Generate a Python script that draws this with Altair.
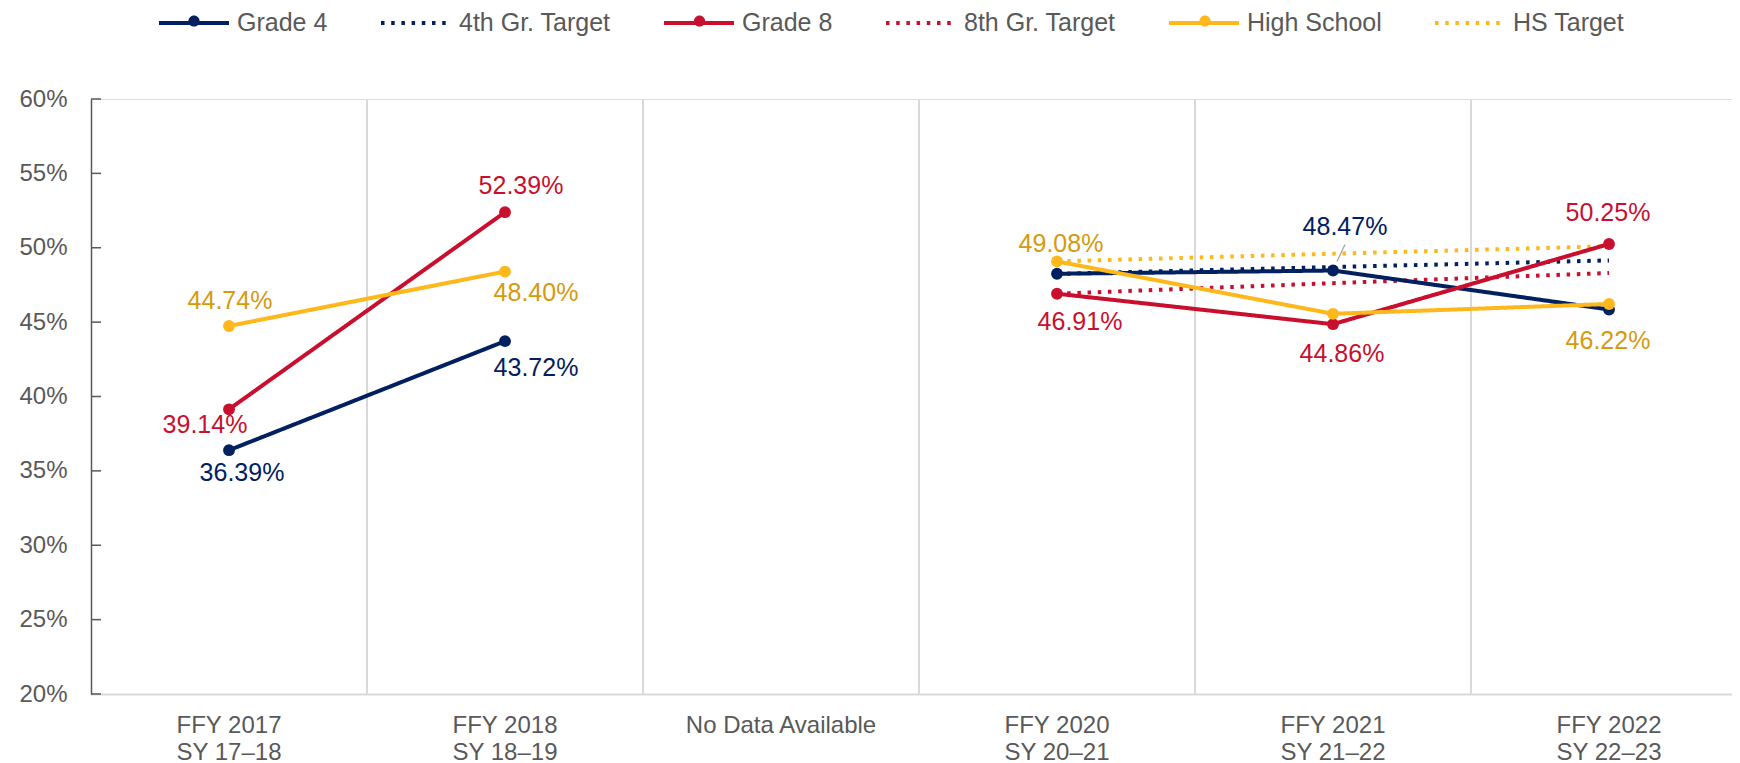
import altair as alt
import pandas as pd

# ---------------- data ----------------
periods = [
    "FFY 2017\nSY 17–18",
    "FFY 2018\nSY 18–19",
    "No Data Available",
    "FFY 2020\nSY 20–21",
    "FFY 2021\nSY 21–22",
    "FFY 2022\nSY 22–23",
]
series_names = ["Grade 4", "4th Gr. Target", "Grade 8", "8th Gr. Target", "High School", "HS Target"]
grades = ["Grade 4", "Grade 8", "High School"]

grade4 = [36.39, 43.72, None, 48.25, 48.47, 45.85]
grade8 = [39.14, 52.39, None, 46.91, 44.86, 50.25]
high_school = [44.74, 48.40, None, 49.08, 45.56, 46.22]
target4 = [None, None, None, 48.25, 48.70, 49.15]
target8 = [None, None, None, 46.91, 47.62, 48.30]
target_hs = [None, None, None, 49.08, 49.60, 50.10]

# which points carry a data label
labeled = {
    "Grade 4": [0, 1, 4],
    "Grade 8": [0, 1, 3, 4, 5],
    "High School": [0, 1, 3, 5],
}
# label with a leader line
leader = ("Grade 4", 4)

y_ticks = [20, 25, 30, 35, 40, 45, 50, 55, 60]

# ---------------- style ----------------
NAVY = "#002060"
RED = "#C8102E"
GOLD = "#FFB81C"
GOLD_TXT = "#D69A0C"
GRAY = "#595959"
LIGHT = "#D9D9D9"
FONT = "Liberation Sans"

line_colors = [NAVY, NAVY, RED, RED, GOLD, GOLD]
dot_colors = [NAVY, RED, GOLD]
DOT = [3.5, 6.7]
dashes = [[1, 0], DOT, [1, 0], DOT, [1, 0], DOT]
label_colors = {"Grade 4": NAVY, "Grade 8": RED, "High School": GOLD_TXT}
# label placement (pixel offsets from the point), keyed by series and period index
label_offsets = {
    ("Grade 4", 0): (13, 23), ("Grade 4", 1): (31, 27), ("Grade 4", 4): (12, -44),
    ("Grade 8", 0): (-24, 16), ("Grade 8", 1): (16, -26), ("Grade 8", 3): (23, 28),
    ("Grade 8", 4): (9, 30), ("Grade 8", 5): (-1, -31),
    ("High School", 0): (1, -25), ("High School", 1): (31, 21),
    ("High School", 3): (4, -17), ("High School", 5): (-1, 37),
}

# ---------------- tables ----------------
values = {
    "Grade 4": grade4, "4th Gr. Target": target4,
    "Grade 8": grade8, "8th Gr. Target": target8,
    "High School": high_school, "HS Target": target_hs,
}
rows = []
for s, vals in values.items():
    for i, v in enumerate(vals):
        if v is None:
            continue
        rows.append({
            "series": s, "dotkey": "dot " + s, "period": periods[i], "value": v,
            "seg": s + ("-a" if i < 2 else "-b"),
        })
df = pd.DataFrame(rows)

lab_rows = []
for s, idxs in labeled.items():
    for i in idxs:
        v = values[s][i]
        dx, dy = label_offsets[(s, i)]
        lab_rows.append({"series": s, "period": periods[i], "value": v,
                         "text": f"{v:.2f}%", "col": label_colors[s], "dx": dx, "dy": dy})
lab_df = pd.DataFrame(lab_rows)

lead_df = pd.DataFrame({"period": [periods[leader[1]]], "value": [values[leader[0]][leader[1]]]})
grid_df = pd.DataFrame({"period": periods[1:]})
tick_df = pd.DataFrame({"v": y_ticks})

# ---------------- scales / encodings ----------------
xscale = alt.Scale(type="band", domain=periods, paddingInner=0, paddingOuter=0)
yscale = alt.Scale(domain=[20, 60], nice=False, zero=False)

x_axis = alt.Axis(
    title=None, labelExpr="split(datum.label, '\\n')", labelAngle=0,
    labelFontSize=24, labelColor=GRAY, labelFont=FONT, labelLineHeight=27,
    labelPadding=19, labelBaseline="top", labelLimit=400, ticks=False, grid=False,
    domainColor=LIGHT, domainWidth=2,
)
y_axis = alt.Axis(
    title=None, values=y_ticks, labelExpr="datum.value + '%'",
    labelFontSize=24, labelColor=GRAY, labelFont=FONT, labelPadding=24,
    ticks=False, tickSize=0, grid=False, domainColor=GRAY, domainWidth=1.5,
)

legend_lines = alt.Legend(
    title=None, orient="none", direction="horizontal", columns=6,
    legendX=66, legendY=-113, padding=0, symbolSize=4900,
    symbolStrokeWidth=4, symbolType="stroke",
    labelFontSize=25, labelFont=FONT, labelOffset=6, labelColor=GRAY,
    columnPadding=45, labelLimit=400,
)
# marker dots laid over the solid legend strokes
legend_dots = alt.Legend(
    title=None, orient="none", direction="horizontal", columns=3,
    legendX=68, legendY=-113, padding=0, symbolSize=4900,
    symbolType="M-0.16,0A0.16,0.16,0,1,1,0.16,0A0.16,0.16,0,1,1,-0.16,0Z",
    symbolStrokeWidth=0, labelExpr="''", labelOffset=0, labelFontSize=25,
    columnPadding=435.5, zindex=2,
)

color_enc = alt.Color("series:N", scale=alt.Scale(domain=series_names, range=line_colors), legend=legend_lines)
dash_enc = alt.StrokeDash("series:N", scale=alt.Scale(domain=series_names, range=dashes), legend=legend_lines)
fill_enc = alt.Fill("dotkey:N", scale=alt.Scale(domain=["dot " + g for g in grades], range=dot_colors),
                    legend=legend_dots)

X = alt.X("period:N", scale=xscale, sort=periods, axis=x_axis)
Y = alt.Y("value:Q", scale=yscale, axis=y_axis)

grid = alt.Chart(grid_df).mark_rule(color=LIGHT, strokeWidth=2).encode(
    x=alt.X("period:N", scale=xscale, sort=periods, bandPosition=0, axis=x_axis)
)

yt = alt.Chart(tick_df).mark_rule(color=GRAY, strokeWidth=1.5).encode(
    y=alt.Y("v:Q", scale=yscale, axis=y_axis), x=alt.value(0), x2=alt.value(10)
)

targets = alt.Chart(df[~df.series.isin(grades)]).mark_line(strokeWidth=4, strokeCap="butt").encode(
    x=X, y=Y, color=color_enc, strokeDash=dash_enc, detail="seg:N"
)
lines = alt.Chart(df[df.series.isin(grades)]).mark_line(strokeWidth=4, strokeCap="round").encode(
    x=X, y=Y, color=color_enc, strokeDash=dash_enc, detail="seg:N"
)
points = alt.Chart(df[df.series.isin(grades)]).mark_point(filled=True, size=140, opacity=1).encode(
    x=X, y=Y, fill=fill_enc
)
lead = alt.Chart(lead_df).mark_point(
    shape="M0.4,-0.9L1.2,-2.6", size=400, filled=False, stroke="#A6A6A6", strokeWidth=1.3, opacity=1
).encode(x=X, y=Y)
labels = alt.Chart(lab_df).mark_text(
    fontSize=25, font=FONT, align="center", baseline="middle",
    dx=alt.ExprRef(expr="datum.dx"), dy=alt.ExprRef(expr="datum.dy"),
).encode(x=X, y=Y, text="text:N", fill=alt.Fill("col:N", scale=None, legend=None))

chart = alt.layer(grid, targets, lines, points, lead, yt, labels).properties(
    width=1656, height=595,
    padding={"left": 83, "top": 91, "right": -15, "bottom": 69},
    autosize=alt.AutoSizeParams(type="none"),
).configure_view(stroke=None).configure(font=FONT)

chart.save("out.html", embed_options={"renderer": "svg", "actions": False})
